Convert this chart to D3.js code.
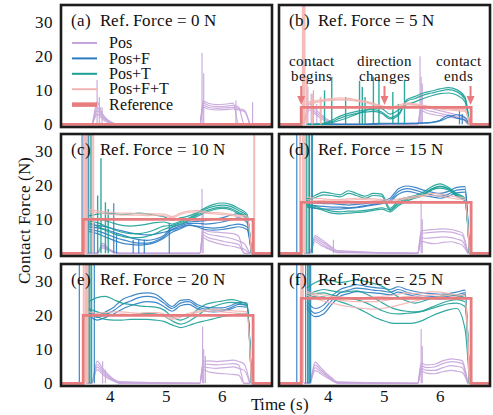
<!DOCTYPE html>
<html><head><meta charset="utf-8">
<script src="https://cdn.jsdelivr.net/npm/d3@7"></script>
<style>
@font-face { font-family: "LibSerifLocal"; src: local("Liberation Serif"), local("LiberationSerif"), local("Liberation Serif Regular"), local("LiberationSerif-Regular"), local("Tinos"), local("Times New Roman"); }
body { margin: 0; }
</style>
</head><body><svg id="c" width="493" height="415"></svg>
<script>
// ---------------- data ----------------
const refForces = [0, 5, 10, 15, 20, 25];
const panelLetters = ["(a)", "(b)", "(c)", "(d)", "(e)", "(f)"];
const seriesNames = ["Pos", "Pos+F", "Pos+T", "Pos+F+T", "Reference"];
const xTicks = [4, 5, 6];
const yTicks = [0, 10, 20, 30];
const timeDomain = [3.1, 6.9];
const forceDomain = [-0.8, 35.1];
const contactStart = 3.5, contactEnd = 6.56;
const annoText = [["contact", "begins"], ["direction", "changes"], ["contact", "ends"]];
const annoTime = [3.5, 5.0, 6.55];

const tGrid = [3.6, 3.75, 3.9, 4.05, 4.2, 4.35, 4.5, 4.65, 4.8, 4.95, 5.1, 5.25, 5.4, 5.55, 5.7, 5.85, 6.0, 6.15, 6.3, 6.45, 6.53];
const posGrid = [3.55, 3.65, 3.75, 3.85, 3.95, 4.05, 4.15, 5.6, 5.66, 5.75, 5.9, 6.05, 6.2, 6.3, 6.4, 6.5];

const posA = [[0,0,6.5,3.0,1.2,0.3,0,0,6.8,6.2,5.8,5.9,6.2,0,0,0],[0,0,5.0,2.5,1.0,0.2,0,0,6.2,5.6,5.2,5.3,5.6,5.0,0,0],[0,0,4.0,2.0,0.8,0.1,0,0,5.6,5.0,4.7,4.8,5.0,4.6,4.2,0],[0,0,3.0,1.5,0.5,0,0,0,5.0,4.5,4.2,4.3,4.5,4.2,3.8,0]];
const posB = [[0,6.0,4.4,3.0,1.6,0.6,0,0,5.6,5.0,4.4,3.8,3.2,2.8,2.6,0],[0,5.0,3.6,2.4,1.2,0.4,0,0,4.8,4.2,3.6,3.0,2.6,2.2,2.0,0],[0,4.2,3.0,1.8,0.8,0.2,0,0,4.0,3.4,2.8,2.4,2.0,1.8,1.6,0]];
const posC = [[0,0,0,3.0,1.5,0.5,0,0,7.0,6.4,6.2,6.0,5.8,5.0,0,0],[0,0,0,2.4,1.2,0.4,0,0,6.2,5.6,5.2,4.8,4.2,3.6,2.8,0],[0,0,0,2.0,1.0,0.3,0,0,5.4,4.6,4.0,3.4,3.0,2.6,0,0],[0,0,0,1.6,0.8,0.2,0,0,4.6,3.8,3.0,2.4,2.0,1.6,1.2,0]];
const posD = [[0,0,5.2,4.2,3.0,1.8,0.8,0,6.6,6.8,7.0,7.2,7.0,6.6,6.0,0],[0,0,4.6,3.6,2.6,1.4,0.6,0,5.8,6.0,6.2,6.4,6.2,5.8,5.2,0],[0,0,4.0,3.0,2.0,1.0,0.3,0,4.6,4.4,4.6,4.8,4.6,4.2,3.6,0],[0,0,3.4,2.4,1.6,0.8,0.2,0,3.6,3.2,2.8,3.2,3.4,3.0,2.4,0]];
const posE = [[0,0,6.5,4.4,2.6,1.2,0.5,0,6.4,6.6,6.4,6.6,6.8,6.4,5.6,0],[0,0,5.6,3.8,2.2,1.0,0.3,0,5.6,5.6,5.4,5.6,5.8,5.4,0,0],[0,0,4.8,3.2,1.8,0.8,0.2,0,4.8,4.6,4.4,4.6,4.8,4.4,3.8,0],[0,0,4.0,2.6,1.4,0.6,0,0,4.0,3.4,3.0,2.8,2.6,2.4,0,0]];
const posF_ = [[0,0,6.2,4.6,3.0,1.6,0.4,0,6.0,5.4,5.6,6.6,7.2,7.0,6.6,0],[0,0,5.4,4.0,2.6,1.2,0.3,0,5.2,4.6,4.8,5.8,6.4,6.2,5.8,0],[0,0,4.6,3.4,2.2,1.0,0.2,0,4.4,3.8,3.8,4.6,5.2,5.0,4.6,0],[0,0,3.8,2.8,1.8,0.8,0,0,3.6,3.0,2.8,3.4,3.8,3.6,3.2,0]];

const blueB = [[0,0,0,0,0,0,0,0,0.2,0.3,0.3,0.3,0.3,0.3,0.4,0.6,1.0,2.0,2.8,2.0,0],[0,0,0,0,0,0,0,0,0,0.1,0.2,0.2,0.2,0.3,0.3,0.5,1.2,2.6,1.8,1.2,0]];
const blueC = [[7.8,7.5,7.0,6.2,5.4,4.6,4.0,3.8,4.2,5.2,7.6,8.4,9.2,9.4,9.6,10.0,10.4,11.2,11.6,10.0,0],[7.0,6.6,5.8,4.8,4.0,3.4,3.0,3.0,3.6,4.8,7.0,8.0,8.8,8.8,8.6,8.8,9.2,9.8,10.4,9.0,0],[6.4,5.8,4.8,3.8,3.0,2.6,2.4,2.6,3.2,4.4,6.2,7.2,8.2,8.0,7.6,7.4,7.6,8.2,8.6,7.8,0],[8.4,8.2,7.8,7.2,6.6,6.0,5.6,5.4,5.6,6.2,6.8,7.6,8.4,7.8,7.0,6.8,7.0,7.4,7.8,7.0,0]];
const blueD = [[15,14.8,14.6,14.6,14.4,14.2,14.4,14.6,15.0,15.4,16.2,19.0,19.8,19.4,18.6,18.0,17.6,18.2,19.4,19.6,0],[14.2,14.0,13.8,13.6,13.6,13.4,13.6,14.0,14.4,14.8,15.6,18.2,19.0,18.6,17.8,17.2,16.8,17.4,18.6,18.8,0],[13.6,13.2,13.0,13.0,13.0,13.2,13.4,13.8,14.2,14.6,15.2,17.4,18.2,17.8,17.0,16.6,16.2,16.8,17.8,18.0,0]];
const blueE = [[22,20,21,22.4,24.6,25.6,26.4,26.6,26.2,24.4,22.6,24.4,24.6,23.2,22.4,22.2,22.2,22.8,23.8,23.6,0],[21,19.4,20.2,21.4,23.2,24.2,25.2,25.6,25.2,23.6,22.0,23.6,24.0,22.6,21.8,21.6,21.6,22.2,23.2,23.0,0],[20,18.6,19.4,20.4,21.8,22.8,23.6,24.0,23.8,22.6,21.2,22.8,23.2,22.0,21.2,21.0,21.2,21.8,22.6,22.4,0]];
const blueF = [[24,22,23,25.6,27.6,28.4,29.0,28.6,28.2,28.0,27.6,28.4,27.6,27.0,26.6,26.4,26.2,26.4,26.8,27.4,0],[23,20.6,21.6,24.4,26.6,27.4,28.0,27.8,27.4,27.2,26.8,27.6,26.8,26.2,25.8,25.6,25.4,25.6,26.0,26.6,0],[22,19.6,20.4,23.2,25.6,26.4,27.0,26.8,26.6,26.4,26.0,26.8,26.2,25.6,25.2,25.0,24.8,25.0,25.4,26.0,0]];

const tealB = [[0,0,0.3,1.2,2.4,3.2,3.8,4.2,4.3,3.6,2.0,3.0,7.2,8.2,9.2,9.8,10.4,10.8,10.2,8.0,0],[0,0,0.2,0.8,1.8,2.6,3.2,3.6,3.8,3.2,1.6,2.6,6.8,7.6,8.6,9.2,9.8,10.2,9.6,7.4,0],[0,0,0,0.5,1.2,2.0,3.0,4.0,4.8,4.6,3.0,4.2,5.8,6.6,7.6,8.4,9.0,9.2,8.6,6.6,0]];
const tealC = [[11,11.5,11.8,11.6,11.4,11.6,11.8,11.6,11.2,10.8,9.8,10.4,11.0,12.0,13.4,14.4,14.8,14.4,13.2,11.5,0],[10,10.2,9.6,8.8,8.2,8.0,8.2,8.6,9.0,9.2,8.6,9.4,10.4,11.6,13.0,13.8,14.2,13.8,12.6,11.0,0],[9.5,9.0,8.0,7.0,6.2,5.8,5.8,6.2,7.0,8.0,8.2,9.0,10.0,11.2,12.4,13.2,13.6,13.2,12.0,10.6,0],[9.0,8.0,6.8,5.8,5.0,4.6,4.6,5.0,5.8,7.0,7.8,8.6,9.6,10.8,12.0,12.8,13.2,12.8,11.6,10.2,0]];
const tealD = [[16,17,18,17.6,17.2,18.4,17.6,16.8,17.6,17.4,13.2,15.6,16.4,17.0,18.0,19.6,20.4,19.4,17.6,16.2,0],[15.5,16.4,17.2,17.0,16.6,17.6,17.0,16.2,17.0,16.8,12.6,15.0,16.0,16.6,17.4,19.0,19.8,19.0,17.2,15.8,0],[14,13.4,12.6,11.8,11.6,11.8,12.0,12.2,12.6,13.0,12.2,14.0,15.4,16.2,17.0,18.6,19.2,18.6,16.8,15.4,0],[14.4,13.8,13.0,12.4,12.2,12.4,12.4,12.6,13.0,13.4,12.8,14.4,15.8,16.6,17.4,18.8,19.6,19.0,17.0,15.6,0]];
const tealE = [[24,25.2,25.6,24.6,23.6,23.2,22.8,22.6,22.4,21.6,19.6,18.6,19.6,21.6,23.2,23.8,24.2,24.6,24.2,23.2,0],[21,19.6,18.8,18.6,18.6,18.8,18.8,18.8,18.6,18.2,17.2,16.4,17.0,17.8,18.4,19.0,19.6,20.0,20.4,20.6,0],[22,21,20.4,20.2,20.0,20.2,20.4,20.6,20.4,19.8,18.4,17.4,18.2,19.8,21.6,22.6,23.4,23.8,23.6,22.8,0]];
const tealF = [[28,29.6,30.4,30.2,29.6,30.0,30.4,30.0,29.4,28.6,27.0,25.4,24.2,23.6,24.2,25.0,25.6,26.0,25.8,25.2,0],[26,27,27.6,27.2,26.8,27.0,27.2,26.4,25.2,23.8,22.4,21.6,21.2,21.0,21.4,22.4,23.4,24.2,24.6,24.0,0],[25,25.6,25.4,24.8,24.0,23.2,22.2,21.0,19.6,18.6,17.8,17.6,17.6,17.8,18.6,19.8,20.8,21.6,22.0,16,0],[25.5,26.4,26.6,26.0,25.4,25.0,24.6,23.8,22.6,21.4,20.6,20.4,20.6,20.8,21.2,22.0,22.8,23.4,23.6,22.6,0]];

const pinkB = [[6.5,7,7.3,7.6,7.8,7.6,7.2,6.8,6.2,5.4,5.0,5.6,6.3,6.0,5.6,5.2,5.0,4.8,4.6,4.4,0],[5.8,6.3,6.8,7.0,7.2,7.1,6.8,6.4,5.8,5.0,4.6,5.2,5.8,5.6,5.2,4.8,4.5,4.2,4.0,3.8,0],[6.0,6.6,7.0,7.3,7.4,7.3,7.0,6.6,6.0,5.2,4.4,5.0,6.0,5.8,5.4,5.0,4.8,4.5,4.3,4.2,0]];
const pinkC = [[13,12.5,12.2,12.0,11.8,11.8,11.6,11.6,11.6,11.5,10.8,11.8,12.4,12.6,12.2,12.0,11.8,11.5,11.2,11.0,0],[12.2,12.0,11.6,11.4,11.3,11.2,11.2,11.1,11.2,11.0,10.4,11.4,12.0,12.2,11.8,11.6,11.4,11.2,10.8,10.6,0]];
const pinkD = [[16.5,16.2,16.0,15.8,15.8,16.0,16.2,16.2,16.0,15.8,15.6,16.0,16.4,16.8,17.2,17.6,17.4,17.0,16.6,16.2,0],[15.8,15.6,15.5,15.4,15.4,15.6,15.8,15.8,15.6,15.4,15.2,15.6,16.0,16.4,16.8,17.0,16.8,16.4,16.0,15.8,0]];
const pinkE = [[21,20.6,20.8,21.0,21.0,20.8,20.6,20.8,20.8,20.4,19.2,19.8,20.6,21.2,21.6,21.8,21.6,21.4,21.2,21.0,0],[20.2,20.0,20.2,20.2,20.4,20.2,20.0,20.2,20.2,19.8,18.8,19.4,20.2,20.8,21.2,21.2,21.0,20.8,20.6,20.4,0]];
const pinkF = [[27,26.4,26.0,25.6,25.4,25.2,25.0,25.2,25.4,25.6,25.8,26.2,26.6,26.4,26.6,27.0,26.8,26.4,26.0,25.8,0],[26,25.0,24.2,23.6,23.0,22.6,22.2,22.0,21.8,22.0,22.4,23.0,23.6,24.2,24.8,25.2,25.4,25.2,25.0,24.8,0],[26.6,25.8,25.2,24.8,24.4,24.2,24.0,24.0,24.0,24.2,24.6,25.2,25.6,25.6,25.8,26.0,26.0,25.8,25.4,25.2,0]];

const spikePos = [
  [[3.75,13],[3.79,8],[3.84,5],[5.64,21],[5.67,15],[6.25,7],[6.55,6.5]],
  [[3.62,11],[3.68,9],[3.72,10],[3.78,6],[3.85,5],[5.64,20],[5.66,14],[5.68,12]],
  [[5.64,19],[5.66,12]],
  [[4.08,4],[5.66,15.5],[5.68,10]],
  [[3.85,6.5],[3.9,4],[5.65,16.7],[5.67,10],[5.7,8]],
  [[5.66,16],[5.68,11]]];
const spikePosF = [
  [],
  [[6.35,4],[6.4,3]],
  [[3.48,36],[3.6,36],[3.7,9],[4.05,14.7],[4.1,6],[4.4,4],[4.5,4],[4.6,4],[5.05,9]],
  [[3.42,36],[3.65,36],[3.7,36]],
  [[3.43,36],[3.7,36]],
  [[3.42,36],[3.58,36],[3.62,36],[3.67,36]]];
const spikePosT = [
  [],
  [[3.92,10],[4.05,14],[4.3,8],[4.55,12.8],[4.6,11],[4.65,8],[4.8,14],[4.9,13],[5.15,9.5],[5.25,6],[5.36,13]],
  [[3.58,36],[3.64,36],[3.76,17],[3.82,28],[3.9,15],[3.95,13]],
  [[3.6,36],[3.64,36],[3.69,36]],
  [[3.6,36],[3.62,36],[3.65,36]],
  [[3.62,36],[3.65,36]]];
const spikePosFT = [
  [],
  [[3.53,36],[3.56,36],[3.6,14],[3.7,9],[3.85,8]],
  [[3.51,36],[3.54,36],[3.57,36],[3.68,36],[6.58,36]],
  [[3.48,36],[3.53,36],[3.57,36]],
  [[3.51,36],[3.55,36],[3.58,36]],
  [[3.5,36],[3.53,36]]];

const posData = [posA, posB, posC, posD, posE, posF_];
const posFData = [[], blueB, blueC, blueD, blueE, blueF];
const posTData = [[], tealB, tealC, tealD, tealE, tealF];
const posFTData = [[], pinkB, pinkC, pinkD, pinkE, pinkF];

// ---------------- drawing ----------------
const FONT = '"LibSerifLocal", "Liberation Serif", "Times New Roman", serif';
const colors = ["#c6a5da", "#2a7bc3", "#1ba096", "#f2b5b3", "#e77b7d"];
const colX0 = [61, 279], colW = 211, rowY0 = [5, 134, 264], rowH = 122;
const svg = d3.select("#c");
const x = d3.scaleLinear().domain(timeDomain).range([0, colW]);
const y = d3.scaleLinear().domain(forceDomain).range([rowH, 0]);
svg.append("defs").append("clipPath").attr("id", "clip").append("rect").attr("width", colW).attr("height", rowH);

const lineG = d3.line().x((d, i) => x(tGrid[i])).y(d => y(d)).curve(d3.curveMonotoneX);
const lineP = d3.line().x((d, i) => x(posGrid[i])).y(d => y(d)).curve(d3.curveMonotoneX);
const lineXY = d3.line().x(d => x(d[0])).y(d => y(d[1]));

const textLayer = [];
function txt(px, py, size, s, anchor, rot) {
  textLayer.push({px, py, size, s, anchor: anchor || "start", rot: rot || 0});
}

refForces.forEach((ref, p) => {
  const col = p % 2, row = Math.floor(p / 2);
  const ox = colX0[col], oy = rowY0[row];
  const g = svg.append("g").attr("transform", `translate(${ox},${oy})`);
  const inner = g.append("g").attr("clip-path", "url(#clip)");

  const drawSpikes = (list, color, w) => inner.append("g").selectAll("line").data(list).join("line")
    .attr("x1", d => x(d[0])).attr("x2", d => x(d[0])).attr("y1", y(0)).attr("y2", d => y(d[1]))
    .attr("stroke", color).attr("stroke-width", w).attr("opacity", 0.9);
  const drawTraces = (list, gen, color) => inner.append("g").selectAll("path").data(list).join("path")
    .attr("d", gen).attr("fill", "none").attr("stroke", color).attr("stroke-width", 1.2).attr("opacity", 0.9);

  drawSpikes(spikePos[p], colors[0], 1.2);
  drawTraces(posData[p], lineP, colors[0]);
  drawSpikes(spikePosF[p], colors[1], 1.2);
  drawTraces(posFData[p], lineG, colors[1]);
  drawSpikes(spikePosT[p], colors[2], 1.4);
  drawTraces(posTData[p], lineG, colors[2]);
  drawSpikes(spikePosFT[p], colors[3], 2);
  drawTraces(posFTData[p], lineG, colors[3]);

  const refPts = [[timeDomain[0], 0], [contactStart, 0], [contactStart, ref], [contactEnd, ref], [contactEnd, 0], [timeDomain[1], 0]];
  inner.append("path").attr("d", lineXY(refPts)).attr("fill", "none").attr("stroke", colors[4]).attr("stroke-width", 2.8);

  g.append("rect").attr("width", colW).attr("height", rowH).attr("fill", "none").attr("stroke", "#1c1c1c").attr("stroke-width", 2.6);

  txt(ox + 10, oy + 21, 16.5, panelLetters[p]);
  txt(ox + 39, oy + 21, 16.5, `Ref. Force = ${ref} N`);
  if (col === 0) yTicks.forEach(d => txt(ox - 8, oy + y(d) + 5.5, 16.5, String(d), "end"));
  if (row === 2) xTicks.forEach(d => txt(ox + x(d), oy + rowH + 16, 16.5, String(d), "middle"));

  if (p === 0) seriesNames.forEach((s, i) => {
    const yy = 38 + i * 15.4;
    g.append("line").attr("x1", 11).attr("x2", 36).attr("y1", yy).attr("y2", yy)
      .attr("stroke", colors[i]).attr("stroke-width", i === 4 ? 4.5 : 2);
    txt(ox + 48, oy + yy + 5.2, 16, s);
  });
  if (p === 1) annoTime.forEach((t, i) => {
    const cx = x(t);
    const tx = i === 0 ? cx + 10 : (i === 2 ? cx - 12 : cx);
    annoText[i].forEach((w, j) => txt(ox + tx, oy + 61 + j * 15, 15, w, "middle"));
    g.append("line").attr("x1", cx).attr("x2", cx).attr("y1", 81).attr("y2", 92)
      .attr("stroke", colors[4]).attr("stroke-width", 2);
    g.append("path").attr("d", `M${cx - 4},91 L${cx + 4},91 L${cx},100 Z`).attr("fill", colors[4]);
  });
});

txt(30, 220, 17, "Contact Force (N)", "middle", -90);
txt(280, 410, 17, "Time (s)", "middle");

textLayer.forEach(t => {
  const el = svg.append("text").attr("x", t.px).attr("y", t.py)
    .style("font-family", FONT).attr("font-size", t.size).attr("fill", "#111");
  if (t.anchor !== "start") el.attr("text-anchor", t.anchor);
  el.text(t.s);
  if (t.rot) el.attr("x", 0).attr("y", 0).attr("transform", `translate(${t.px},${t.py}) rotate(${t.rot})`);
});
</script></body></html>
